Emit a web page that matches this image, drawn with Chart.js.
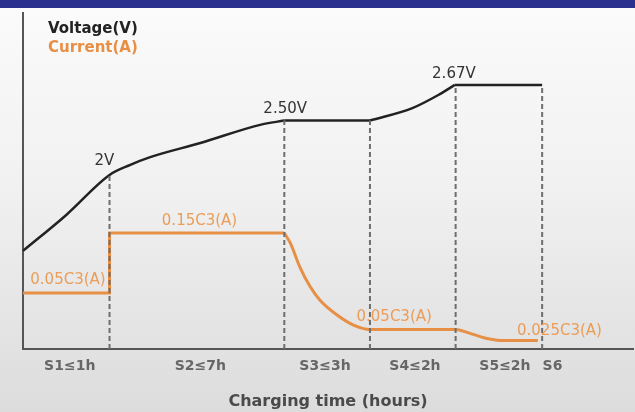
<!DOCTYPE html>
<html>
<head>
    <title>Charging stages</title>
    <script src="https://cdn.jsdelivr.net/npm/chart.js@4.4.0/dist/chart.umd.min.js"></script>
    <style>
        html, body {
            margin: 0;
            padding: 0;
            width: 635px;
            height: 412px;
            overflow: hidden;
        }
        body {
            background: linear-gradient(to bottom, #fbfbfb 0%, #f1f1f1 45%, #dcdcdc 100%);
            position: relative;
        }
        .band {
            position: absolute;
            left: 0; top: 0;
            width: 635px; height: 8px;
            background: #29308d;
        }
        .chart-box {
            position: absolute;
            left: 0; top: 0;
            width: 635px; height: 412px;
        }
    </style>
</head>
<body>
    <div class="band"></div>
    <div class="chart-box">
        <canvas id="chargeChart"></canvas>
    </div>
    <script>
        // x in stage units (S1 = 1 unit, S2 = 2 units, S3..S5 = 1 unit), y in relative level 0..100
        const voltageX = [0, 0.5, 1.0, 1.24, 1.47, 2.05, 2.74, 3.02, 4.01, 4.5, 4.8, 4.99, 6.0];
        const voltageY = [29.2, 39.9, 51.8, 54.8, 57.1, 61.3, 66.7, 68.0, 68.0, 71.7, 75.6, 78.6, 78.6];
        const voltageBreaks = [7, 8, 11];   // corners where the curve changes piece

        const currentStepX = [0, 1.0, 1.0, 3.02];
        const currentStepY = [16.7, 16.7, 34.5, 34.5];
        const currentX = [3.02, 3.09, 3.2, 3.32, 3.43, 3.63, 3.82, 4.01, 5.0, 5.15, 5.35, 5.55, 5.95];
        const currentY = [34.5, 31.5, 24.4, 18.5, 14.6, 10.1, 7.1, 5.8, 5.8, 4.8, 3.2, 2.5, 2.5];

        const stageBounds = [1.0, 3.02, 4.01, 5.0, 6.0];
        const stageTops = [51.8, 68.0, 68.0, 78.6, 78.6];

        const stageTickPos = [0.54, 2.05, 3.49, 4.53, 5.57, 6.12];
        const stageLabels = ['S1≤1h', 'S2≤7h', 'S3≤3h', 'S4≤2h', 'S5≤2h', 'S6'];

        const voltageNotes = ['2V', '2.50V', '2.67V'];
        const voltageNoteX = [0.94, 3.03, 4.98];
        const voltageNoteY = [56.0, 71.4, 81.8];

        const currentNotes = ['0.05C3(A)', '0.15C3(A)', '0.05C3(A)', '0.025C3(A)'];
        const currentNoteX = [0.52, 2.04, 4.29, 6.2];
        const currentNoteY = [20.5, 38.1, 9.4, 5.4];

        const voltageColor = '#222222';
        const currentColor = '#e88f46';
        const fontFamily = '"DejaVu Sans", Verdana, sans-serif';

        const toPoints = (xs, ys) => xs.map((x, i) => ({ x: x, y: ys[i] }));

        const datasets = [];
        stageBounds.forEach((x, i) => {
            datasets.push({
                label: 'stage',
                data: [{ x: x, y: 0 }, { x: x, y: stageTops[i] }],
                borderColor: '#6e6e6e',
                borderWidth: 2,
                borderDash: [5, 3],
                pointRadius: 0,
                tension: 0
            });
        });
        datasets.push({
            label: 'Current(A)',
            data: toPoints(currentStepX, currentStepY),
            borderColor: currentColor,
            borderWidth: 3,
            pointRadius: 0,
            tension: 0
        });
        datasets.push({
            label: 'Current(A)',
            data: toPoints(currentX, currentY),
            borderColor: currentColor,
            borderWidth: 3,
            pointRadius: 0,
            cubicInterpolationMode: 'monotone'
        });
        // voltage is drawn piece by piece so the corners stay sharp
        const cuts = [0].concat(voltageBreaks, [voltageX.length - 1]);
        for (let i = 0; i < cuts.length - 1; i++) {
            datasets.push({
                label: 'Voltage(V)',
                data: toPoints(voltageX.slice(cuts[i], cuts[i + 1] + 1), voltageY.slice(cuts[i], cuts[i + 1] + 1)),
                borderColor: voltageColor,
                borderWidth: 2.5,
                pointRadius: 0,
                cubicInterpolationMode: 'monotone'
            });
        }

        // draws the value notes and the two-line legend
        const notesPlugin = {
            id: 'notes',
            afterDatasetsDraw(chart) {
                const ctx = chart.ctx;
                const xs = chart.scales.x, ys = chart.scales.y;
                ctx.save();
                ctx.textAlign = 'center';
                ctx.textBaseline = 'middle';
                ctx.font = '15px ' + fontFamily;
                ctx.fillStyle = '#333333';
                voltageNotes.forEach((t, i) => {
                    ctx.fillText(t, xs.getPixelForValue(voltageNoteX[i]), ys.getPixelForValue(voltageNoteY[i]));
                });
                ctx.fillStyle = '#eb9d58';
                currentNotes.forEach((t, i) => {
                    ctx.fillText(t, xs.getPixelForValue(currentNoteX[i]), ys.getPixelForValue(currentNoteY[i]));
                });

                // legend
                ctx.textAlign = 'left';
                ctx.font = 'bold 15px ' + fontFamily;
                const legendItems = [['Voltage(V)', voltageColor], ['Current(A)', currentColor]];
                legendItems.forEach((item, i) => {
                    ctx.fillStyle = item[1];
                    ctx.fillText(item[0], chart.chartArea.left + 25, chart.chartArea.top + 16 + i * 19);
                });
                ctx.restore();
            }
        };

        new Chart(document.getElementById('chargeChart').getContext('2d'), {
            type: 'line',
            data: { datasets: datasets },
            plugins: [notesPlugin],
            options: {
                responsive: true,
                maintainAspectRatio: false,
                animation: false,
                layout: {
                    padding: { left: 23, right: 2, top: 13, bottom: 0 }
                },
                plugins: {
                    legend: { display: false },
                    tooltip: { enabled: false }
                },
                elements: { line: { borderCapStyle: 'butt' } },
                datasets: { line: { clip: false } },
                scales: {
                    x: {
                        type: 'linear',
                        min: 0,
                        max: 7.05,
                        grid: { display: false, drawTicks: false },
                        border: { display: true, color: '#555555', width: 2 },
                        afterBuildTicks: scale => {
                            scale.ticks = stageTickPos.map(v => ({ value: v }));
                        },
                        afterFit: scale => { scale.height = 63; },
                        ticks: {
                            autoSkip: false,
                            maxRotation: 0,
                            padding: 9,
                            color: '#666666',
                            font: { family: fontFamily, size: 14, weight: 'bold' },
                            callback: (v, i) => stageLabels[i]
                        },
                        title: {
                            display: true,
                            text: 'Charging time (hours)',
                            color: '#4a4a4a',
                            padding: { top: 4, bottom: 1 },
                            font: { family: fontFamily, size: 16, weight: 'bold' }
                        }
                    },
                    y: {
                        min: 0,
                        max: 100,
                        grid: { display: false, drawTicks: false },
                        border: { display: true, color: '#555555', width: 2 },
                        ticks: { display: false },
                        afterFit: scale => { scale.width = 0; }
                    }
                }
            }
        });
    </script>
</body>
</html>
